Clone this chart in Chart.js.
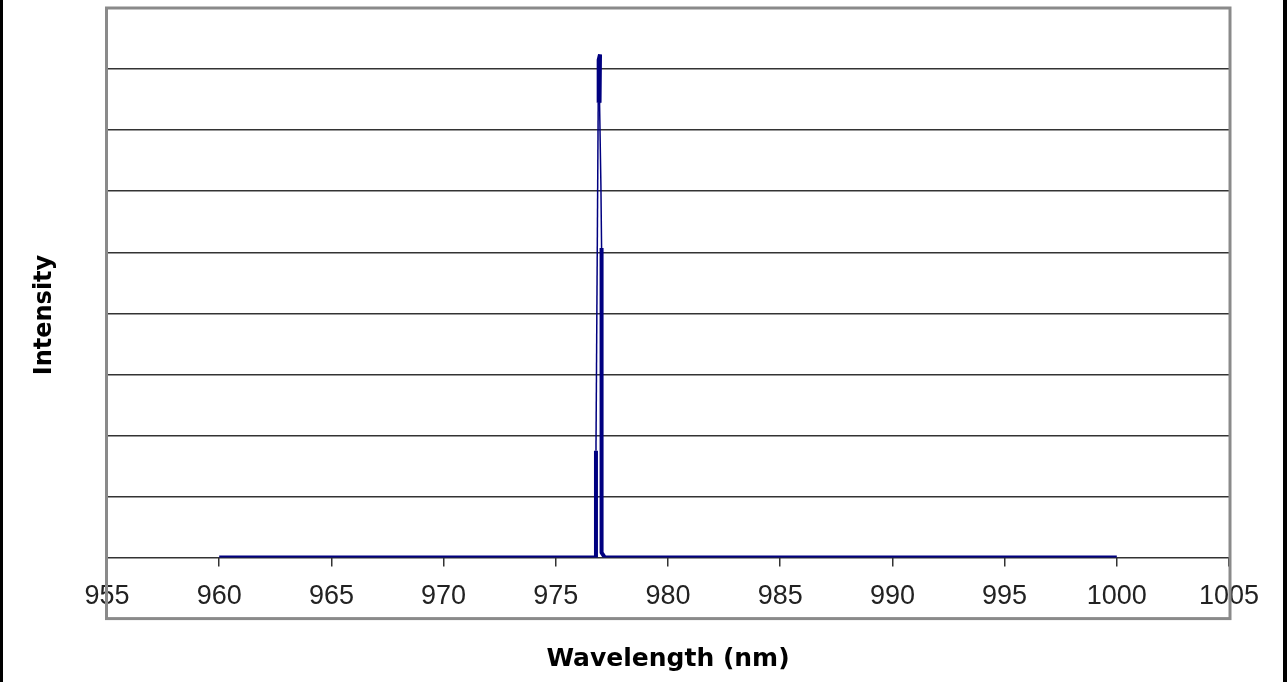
<!DOCTYPE html>
<html>
<head>
<meta charset="utf-8">
<script src="https://cdn.jsdelivr.net/npm/chart.js@4"></script>
<style>
 html,body{margin:0;padding:0;background:#fff}
 #wrap{width:1287px;height:682px;position:relative}
</style>
</head>
<body>
<div id="wrap"><canvas id="c" width="1287" height="682"></canvas></div>
<script>
/* spectrum: wavelength (nm) vs intensity (grid units) */
const WL=[960,976.75,976.79,976.79,976.89,976.91,976.97,976.95,977.01,977.04,977.04,977.19,1000];
const INT=[0,0,0,1.75,7.45,8.15,8.24,7.45,6.1,5.07,0.08,0,0];
const XMIN=955,XMAX=1005,XSTEP=5;
const YMIN=0,YMAX=9;
const XTITLE='Wavelength (nm)',YTITLE='Intensity';
// segments drawn thin in the original trace
const THIN=[3,7,8];

const pts=WL.map(function(x,i){return{x:x,y:INT[i]}});

const frame={
 id:'frame',
 beforeDatasetsDraw:function(ch){
  var a=ch.chartArea,c=ch.ctx;
  c.save();
  c.strokeStyle='#8a8a8a';c.lineWidth=3;
  c.strokeRect(a.left-0.5,a.top,a.right-a.left+1.5,a.bottom+61-a.top);
  c.restore();
 },
 afterDraw:function(ch){
  var c=ch.ctx;
  c.save();
  c.fillStyle='#000';
  c.fillRect(0,0,3,682);c.fillRect(1283,0,4,682);
  c.translate(45,315);c.rotate(-Math.PI/2);
  c.font='bold 24px "DejaVu Sans"';c.textAlign='center';c.textBaseline='middle';
  c.fillText(YTITLE,0,0);
  c.restore();
 }
};

new Chart(document.getElementById('c'),{
 type:'scatter',
 data:{datasets:[{data:pts,showLine:true,borderColor:'#000080',borderWidth:4,
  borderJoinStyle:'bevel',pointRadius:0,tension:0,
  segment:{borderWidth:function(s){return THIN.indexOf(s.p0DataIndex)>=0?1.5:4}}}]},
 options:{responsive:false,animation:false,
  layout:{padding:{left:107,right:58,top:8,bottom:0}},
  plugins:{legend:{display:false},tooltip:{enabled:false}},
  scales:{
   x:{type:'linear',min:XMIN,max:XMAX,
    ticks:{stepSize:XSTEP,padding:14,color:'#222',font:{family:'"Liberation Sans"',size:27},
     callback:function(v){return v}},
    grid:{drawOnChartArea:false,drawTicks:true,tickLength:9,color:'#333',lineWidth:1.5},
    border:{display:false},
    title:{display:true,text:XTITLE,color:'#000',font:{family:'"DejaVu Sans"',size:25,weight:'bold'},padding:{top:17,bottom:8}}},
   y:{min:YMIN,max:YMAX,
    ticks:{display:false,stepSize:1},
    grid:{color:'#333',lineWidth:1.5,drawTicks:false},
    border:{display:false}}
  }}
 ,plugins:[frame]
});
</script>
</body>
</html>
